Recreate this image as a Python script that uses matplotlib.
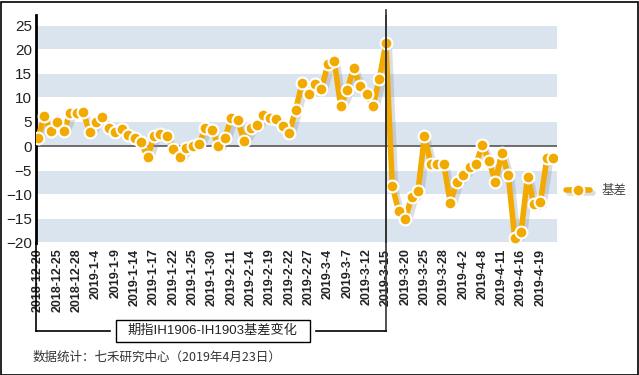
import matplotlib
matplotlib.use("Agg")
import matplotlib.pyplot as plt
import matplotlib.patheffects as pe
from matplotlib.lines import Line2D
from matplotlib.patches import Rectangle

plt.rcParams['font.family'] = ['Liberation Sans', 'Noto Sans CJK SC', 'DejaVu Sans']

dates = [
    "2018-12-20", "2018-12-21", "2018-12-24", "2018-12-25", "2018-12-26", "2018-12-27", "2018-12-28",
    "2019-1-2", "2019-1-3", "2019-1-4", "2019-1-7", "2019-1-8", "2019-1-9", "2019-1-10", "2019-1-11",
    "2019-1-14", "2019-1-15", "2019-1-16", "2019-1-17", "2019-1-18", "2019-1-21", "2019-1-22",
    "2019-1-23", "2019-1-24", "2019-1-25", "2019-1-28", "2019-1-29", "2019-1-30", "2019-1-31",
    "2019-2-1", "2019-2-11", "2019-2-12", "2019-2-13", "2019-2-14", "2019-2-15", "2019-2-18",
    "2019-2-19", "2019-2-20", "2019-2-21", "2019-2-22", "2019-2-25", "2019-2-26", "2019-2-27",
    "2019-2-28", "2019-3-1", "2019-3-4", "2019-3-5", "2019-3-6", "2019-3-7", "2019-3-8",
    "2019-3-11", "2019-3-12", "2019-3-13", "2019-3-14", "2019-3-15", "2019-3-18", "2019-3-19",
    "2019-3-20", "2019-3-21", "2019-3-22", "2019-3-25", "2019-3-26", "2019-3-27", "2019-3-28",
    "2019-3-29", "2019-4-1", "2019-4-2", "2019-4-3", "2019-4-4", "2019-4-8", "2019-4-9",
    "2019-4-10", "2019-4-11", "2019-4-12", "2019-4-15", "2019-4-16", "2019-4-17", "2019-4-18",
    "2019-4-19", "2019-4-22", "2019-4-23",
]

basis = [
    1.7, 6.3, 3.1, 4.9, 3.1, 6.9, 6.9, 7.0, 3.0, 5.0, 6.1, 3.8, 3.0, 3.6, 2.2, 1.7, 0.8, -2.3,
    2.1, 2.6, 2.1, -0.5, -2.3, -0.3, 0.1, 0.5, 3.7, 3.4, 0.1, 1.6, 5.8, 5.3, 1.1, 3.7, 4.3,
    6.5, 5.9, 5.5, 4.1, 2.8, 7.5, 13.0, 10.8, 12.8, 11.8, 16.9, 17.5, 8.2, 11.6, 16.2, 12.4,
    10.7, 8.3, 13.9, 21.3, -8.3, -13.4, -15.0, -10.6, -9.2, 2.1, -3.7, -3.7, -3.7, -11.7,
    -7.4, -5.9, -4.3, -3.6, 0.2, -3.0, -7.4, -1.4, -5.9, -18.9, -17.7, -6.3, -12.0, -11.6,
    -2.5, -2.5,
]

tick_step = 3
series_name = "基差"
box_title = "期指IH1906-IH1903基差变化"
footer = "数据统计：七禾研究中心（2019年4月23日）"
split_date = "2019-3-15"

W, H = 639, 375
fig = plt.figure(figsize=(W / 100, H / 100), dpi=100)

x = list(range(len(dates)))
ax = fig.add_axes([36 / W, 1 - 243 / H, (557 - 36) / W, (243 - 15) / H])
ax.set_xlim(-0.31, 80.57)
ax.set_ylim(-20, 27.07)

band_color = '#DAE4EF'
for lo in [20, 10, 0, -10, -20]:
    ax.axhspan(lo + 0.12, lo + 5 - 0.12, color=band_color, lw=0, zorder=0)
ax.axhline(0, color='#555555', lw=1.2, zorder=1)

orange = '#F2AA00'
shadow = [pe.SimpleLineShadow(offset=(2.5, -2.5), shadow_color='#8a8f96', alpha=0.3), pe.Normal()]
ax.plot(x, basis, color=orange, lw=4, solid_joinstyle='round', solid_capstyle='round', zorder=3,
        path_effects=shadow)
ax.plot(x, basis, ls='none', marker='o', ms=8.5, mfc=orange, mec='white', mew=1.5, zorder=4)

for s in ['top', 'right', 'bottom']:
    ax.spines[s].set_visible(False)
ax.spines['left'].set_linewidth(2)
ax.spines['left'].set_color('black')

ax.set_yticks(range(-20, 26, 5))
ax.tick_params(axis='y', length=0, labelsize=11, pad=3, labelcolor='#222222')
ticks = x[::tick_step]
ax.set_xticks(ticks)
ax.set_xticklabels([dates[i] for i in ticks], rotation=90, fontsize=9,
                   fontweight='bold', color='#222222')
ax.tick_params(axis='x', length=0, pad=4)

si = dates.index(split_date)
ax.axvline(si, ymin=0, ymax=1.0, color='#333333', lw=1.2, zorder=5)

def fx(px):
    return px / W

def fy(py):
    return 1 - py / H

xs = ax.transData.transform((si, 0))[0]
fig.add_artist(Line2D([fx(36), fx(36)], [fy(243), fy(331)], color='black', lw=1.2))
fig.add_artist(Line2D([fx(xs), fx(xs)], [fy(10), fy(331)], color='#333333', lw=1.2))
fig.add_artist(Line2D([fx(36), fx(110)], [fy(331), fy(331)], color='black', lw=1.2))
fig.add_artist(Line2D([fx(316), fx(xs)], [fy(331), fy(331)], color='black', lw=1.2))
fig.add_artist(Rectangle((fx(116), fy(342)), (310 - 116) / W, (342 - 320) / H,
                         transform=fig.transFigure, fill=False, ec='black', lw=1))
fig.text(fx(213), fy(331), box_title, ha='center', va='center', fontsize=9.5,
         family=['Liberation Sans', 'Noto Sans CJK SC'], color='#222222')
fig.text(fx(33), fy(357), footer, ha='left', va='center', fontsize=9,
         family=['Noto Sans CJK SC', 'Liberation Sans'], color='#333333')

lx0, lx1, ly = 566, 590, 190
fig.add_artist(Line2D([fx(lx0), fx(lx1)], [fy(ly), fy(ly)], color=orange, lw=4,
                      solid_capstyle='round', path_effects=shadow))
fig.add_artist(Line2D([fx((lx0 + lx1) / 2)], [fy(ly)], ls='none', marker='o', ms=8.5,
                      mfc=orange, mec='white', mew=1.5))
fig.text(fx(602), fy(ly), series_name, ha='left', va='center', fontsize=9,
         family=['Noto Sans CJK SC'], color='#444444')

fig.add_artist(Rectangle((0.5 / W, 0.5 / H), (W - 2) / W, (H - 2) / H, transform=fig.transFigure,
                         fill=False, ec='black', lw=1.2))

fig.savefig("out.png", dpi=100)
